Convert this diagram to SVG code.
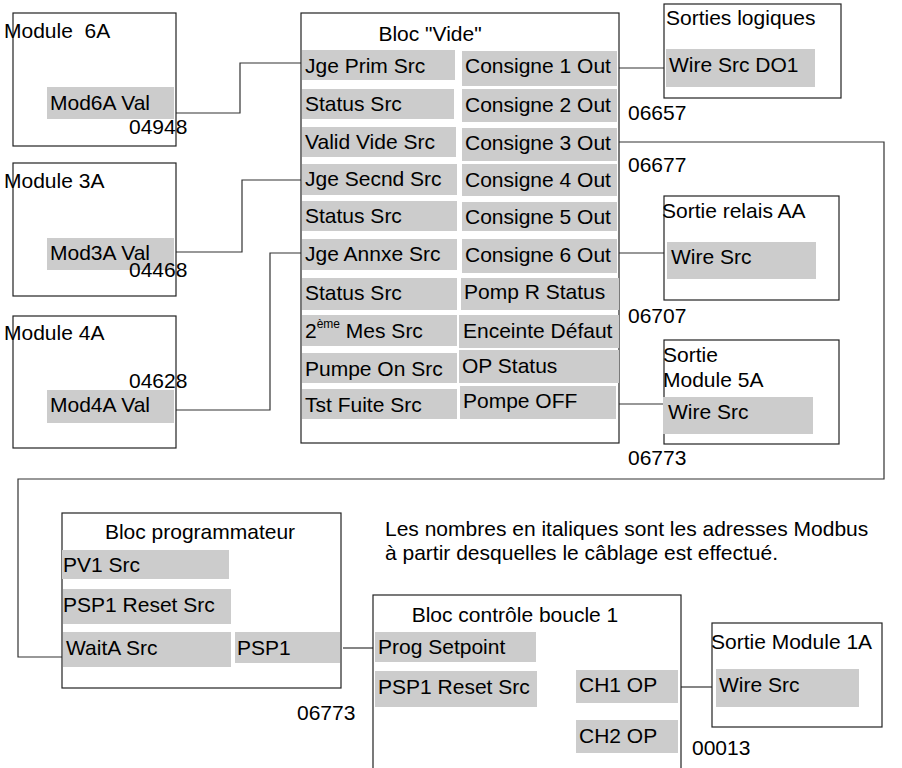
<svg xmlns="http://www.w3.org/2000/svg" width="902" height="768" viewBox="0 0 902 768">
<style>
text{font-family:"Liberation Sans",Arial,sans-serif;font-size:21px;fill:#000}
.box{fill:#fff;stroke:#222;stroke-width:1.2}
.f{fill:#cccccc;stroke:none}
.c{fill:none;stroke:#333;stroke-width:1.2}
.m{text-anchor:middle}
</style>
<rect width="902" height="768" fill="#fff"/>
<g id="connectors">
<polyline class="c" points="176,113 240,113 240,63 301,63"/>
<polyline class="c" points="176,252 242,252 242,180 301,180"/>
<polyline class="c" points="176,410 270,410 270,253 301,253"/>
<polyline class="c" points="619,68 664,68"/>
<polyline class="c" points="619,142 884,142 884,479 18,479 18,657 62,657"/>
<polyline class="c" points="619,253 664,253"/>
<polyline class="c" points="619,404 664,404"/>
<polyline class="c" points="343,648 373,648"/>
<polyline class="c" points="681,687 712,687"/>
</g>
<g id="module6a">
<rect class="box" x="13" y="13" width="163" height="133"/>
<text x="4" y="38" xml:space="preserve">Module  6A</text>
<rect class="f" x="47" y="87" width="127" height="32"/>
<text x="50" y="110">Mod6A Val</text>
<text x="129" y="134">04948</text>
</g>
<g id="module3a">
<rect class="box" x="13" y="163" width="163" height="133"/>
<text x="4" y="188">Module 3A</text>
<rect class="f" x="47" y="238" width="127" height="32"/>
<text x="50" y="260">Mod3A Val</text>
<text x="129" y="277">04468</text>
</g>
<g id="module4a">
<rect class="box" x="13" y="316" width="163" height="132"/>
<text x="4" y="340">Module 4A</text>
<text x="129" y="388">04628</text>
<rect class="f" x="47" y="390" width="127" height="33"/>
<text x="50" y="412">Mod4A Val</text>
</g>
<g id="bloc-vide">
<rect class="box" x="301" y="13" width="318" height="430"/>
<text class="m" x="430" y="41">Bloc "Vide"</text>
<rect class="f" x="302" y="50" width="153" height="30"/>
<rect class="f" x="302" y="89" width="152" height="30"/>
<rect class="f" x="302" y="127" width="154" height="30"/>
<rect class="f" x="302" y="164" width="155" height="31"/>
<rect class="f" x="302" y="201" width="155" height="30"/>
<rect class="f" x="302" y="239" width="155" height="31"/>
<rect class="f" x="302" y="278" width="155" height="32"/>
<rect class="f" x="302" y="315" width="155" height="31"/>
<rect class="f" x="302" y="353" width="155" height="30"/>
<rect class="f" x="302" y="389" width="155" height="30"/>
<text x="305" y="73">Jge Prim Src</text>
<text x="305" y="111">Status Src</text>
<text x="305" y="149">Valid Vide Src</text>
<text x="305" y="186">Jge Secnd Src</text>
<text x="305" y="223">Status Src</text>
<text x="305" y="261">Jge Annxe Src</text>
<text x="305" y="300">Status Src</text>
<text x="305" y="338">2<tspan font-size="12" dy="-10">ème</tspan><tspan dy="10"> Mes Src</tspan></text>
<text x="305" y="376">Pumpe On Src</text>
<text x="305" y="412">Tst Fuite Src</text>
<rect class="f" x="462" y="51" width="155" height="35"/>
<rect class="f" x="462" y="89" width="155" height="33"/>
<rect class="f" x="462" y="128" width="155" height="33"/>
<rect class="f" x="462" y="164" width="155" height="32"/>
<rect class="f" x="462" y="202" width="155" height="29"/>
<rect class="f" x="462" y="239" width="155" height="34"/>
<rect class="f" x="461" y="278" width="158" height="32"/>
<rect class="f" x="459" y="315" width="160" height="33"/>
<rect class="f" x="459" y="350" width="160" height="33"/>
<rect class="f" x="460" y="386" width="156" height="33"/>
<text x="465" y="73">Consigne 1 Out</text>
<text x="465" y="112">Consigne 2 Out</text>
<text x="465" y="150">Consigne 3 Out</text>
<text x="465" y="187">Consigne 4 Out</text>
<text x="465" y="224">Consigne 5 Out</text>
<text x="465" y="262">Consigne 6 Out</text>
<text x="464" y="299">Pomp R Status</text>
<text x="463" y="338">Enceinte Défaut</text>
<text x="462" y="373">OP Status</text>
<text x="463" y="408">Pompe OFF</text>
</g>
<g id="sorties-logiques">
<rect class="box" x="664" y="4" width="177" height="94"/>
<text x="666" y="25">Sorties logiques</text>
<rect class="f" x="666" y="49" width="149" height="38"/>
<text x="669" y="72">Wire Src DO1</text>
<text x="628" y="120">06657</text>
</g>
<text x="628" y="172">06677</text>
<g id="sortie-relais-aa">
<rect class="box" x="664" y="196" width="175" height="104"/>
<text x="662" y="218">Sortie relais AA</text>
<rect class="f" x="667" y="242" width="149" height="37"/>
<text x="671" y="264">Wire Src</text>
<text x="628" y="323">06707</text>
</g>
<g id="sortie-module-5a">
<rect class="box" x="664" y="340" width="175" height="104"/>
<text x="663" y="362">Sortie</text>
<text x="663" y="387">Module 5A</text>
<rect class="f" x="663" y="397" width="150" height="37"/>
<text x="668" y="419">Wire Src</text>
<text x="628" y="465">06773</text>
</g>
<g id="bloc-programmateur">
<rect class="box" x="62" y="513" width="279" height="175"/>
<text class="m" x="200" y="539">Bloc programmateur</text>
<rect class="f" x="62" y="550" width="167" height="29"/>
<text x="63" y="572">PV1 Src</text>
<rect class="f" x="63" y="589" width="168" height="35"/>
<text x="63" y="612">PSP1 Reset Src</text>
<rect class="f" x="63" y="632" width="168" height="35"/>
<text x="66" y="655">WaitA Src</text>
<rect class="f" x="235" y="632" width="105" height="31"/>
<text x="237" y="655">PSP1</text>
<text x="297" y="720">06773</text>
</g>
<g id="note">
<text x="385" y="536">Les nombres en italiques sont les adresses Modbus</text>
<text x="385" y="560">à partir desquelles le câblage est effectué.</text>
</g>
<g id="bloc-controle-boucle-1">
<rect class="box" x="373" y="595" width="308" height="180"/>
<text class="m" x="515" y="622">Bloc contrôle boucle 1</text>
<rect class="f" x="375" y="632" width="161" height="30"/>
<text x="378" y="654">Prog Setpoint</text>
<rect class="f" x="375" y="671" width="162" height="36"/>
<text x="378" y="694">PSP1 Reset Src</text>
<rect class="f" x="576" y="670" width="102" height="33"/>
<text x="579" y="692">CH1 OP</text>
<rect class="f" x="576" y="720" width="102" height="33"/>
<text x="579" y="743">CH2 OP</text>
</g>
<g id="sortie-module-1a">
<rect class="box" x="712" y="623" width="170" height="104"/>
<text x="711" y="649">Sortie Module 1A</text>
<rect class="f" x="716" y="669" width="143" height="38"/>
<text x="719" y="692">Wire Src</text>
<text x="692" y="755">00013</text>
</g>
</svg>
